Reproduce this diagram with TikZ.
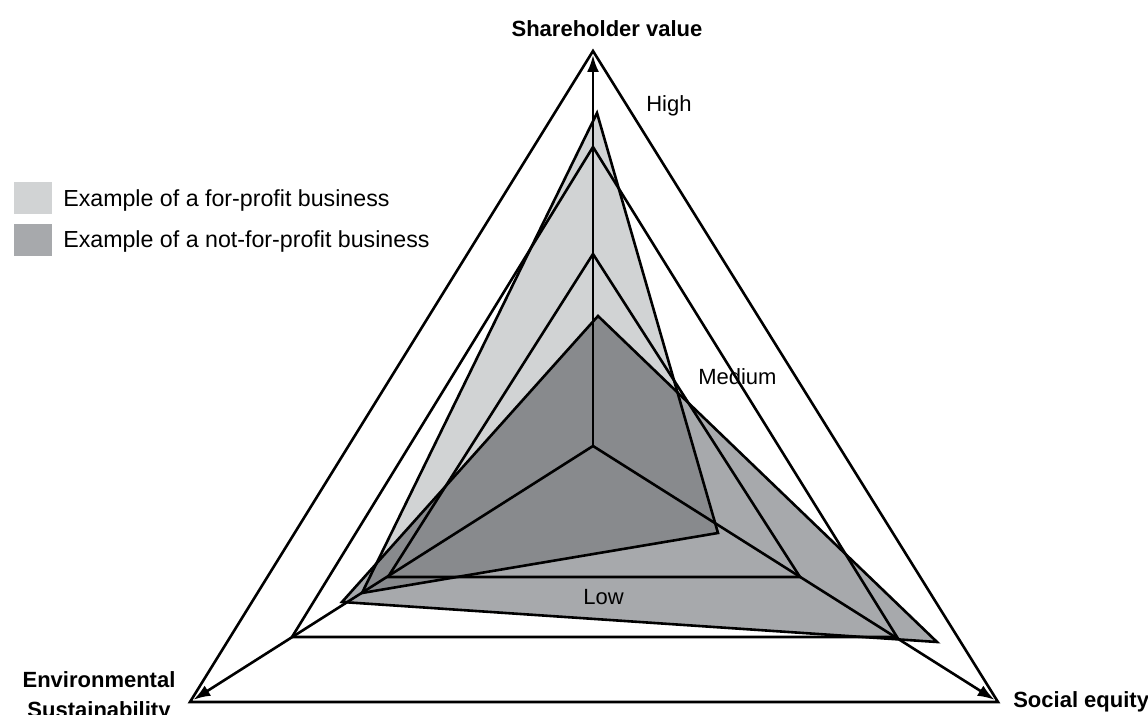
\documentclass[tikz,border=0pt]{standalone}
\usepackage{fontspec}
\setmainfont{Liberation Sans}
\usetikzlibrary{arrows.meta,positioning}
\definecolor{forprofit}{HTML}{D1D3D4}
\definecolor{notprofit}{HTML}{A7A9AC}
\definecolor{bothgray}{HTML}{888A8D}

\begin{document}
\begin{tikzpicture}[x=0.5pt, y=-0.5pt, line width=1.3pt,
	>={Latex[length=8.5pt,width=6pt]},
	ring/.style = { draw=black },
	axis/.style = { draw=black, ->, shorten >=2pt },
	lbl/.style = { inner sep=0pt, font=\fontsize{11}{13}\selectfont },
	axislbl/.style = { inner sep=0pt, align=center,
			font=\bfseries\fontsize{11}{15}\selectfont },
	keybox/.style = { minimum width=19pt, minimum height=16pt, inner sep=0pt },
	keytext/.style = { inner sep=0pt, font=\fontsize{11.6}{14}\selectfont }]

  \useasboundingbox (0,0) rectangle (1148,715);

  % axes and the three rings
  \coordinate (O) at (593,446);
  \coordinate (top) at (593,51);
  \coordinate (left) at (190,702);
  \coordinate (right) at (998,702);
  \coordinate (mtop) at (593,147);
  \coordinate (mleft) at (292,637);
  \coordinate (mright) at (897,637);
  \coordinate (ltop) at (593,254);
  \coordinate (lleft) at (388,577);
  \coordinate (lright) at (800,577);

  % the two businesses
  \coordinate (fp1) at (597,113);
  \coordinate (fp2) at (362,593);
  \coordinate (fp3) at (718,533);
  \coordinate (np1) at (598,316);
  \coordinate (np2) at (342,602);
  \coordinate (np3) at (937,642);

  \fill[forprofit] (fp1) -- (fp2) -- (fp3) -- cycle;
  \fill[notprofit] (np1) -- (np2) -- (np3) -- cycle;
  \begin{scope}
    \clip (fp1) -- (fp2) -- (fp3) -- cycle;
    \fill[bothgray] (np1) -- (np2) -- (np3) -- cycle;
  \end{scope}

  \draw[ring] (top) -- (left) -- (right) -- cycle;
  \draw[ring] (mtop) -- (mleft) -- (mright) -- cycle;
  \draw[ring] (ltop) -- (lleft) -- (lright) -- cycle;
  \draw[ring] (fp1) -- (fp2) -- (fp3) -- cycle;
  \draw[ring] (np1) -- (np2) -- (np3) -- cycle;

  \draw[axis] (O) -- (top);
  \draw[axis] (O) -- (left);
  \draw[axis] (O) -- (right);

  \node[axislbl, anchor=base] (sv) at (607,37) {Shareholder value};
  \node[axislbl, anchor=north] (es) at (99,670) {Environmental\\Sustainability};
  \node[axislbl, anchor=base west] (se) at (1012,708) {Social equity};

  \node[lbl, anchor=base west] (high) at (645,112) {High};
  \node[lbl, anchor=base west] (medium) at (697,385) {Medium};
  \node[lbl, anchor=base west] (low) at (582,605) {Low};

  % legend
  \node[keybox, fill=forprofit] (key1) at (33,198) {};
  \node[keybox, fill=notprofit] (key2) at (33,240) {};
  \node[keytext, anchor=base west] (txt1) at (62,207) {Example of a for-profit business};
  \node[keytext, anchor=base west] (txt2) at (62,248) {Example of a not-for-profit business};
\end{tikzpicture}
\end{document}
